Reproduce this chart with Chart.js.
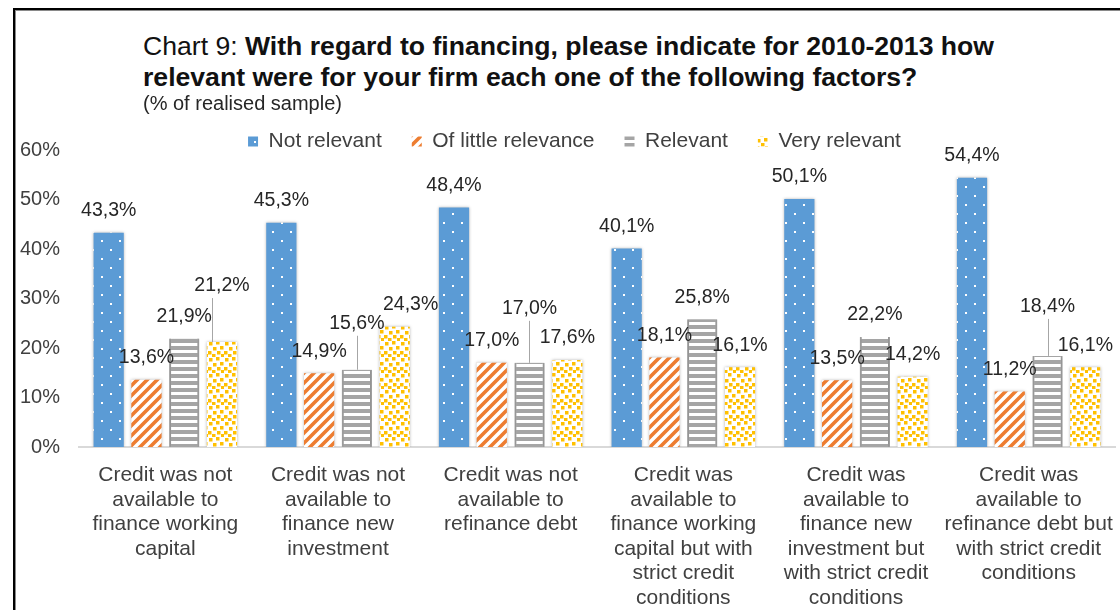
<!DOCTYPE html>
<html>
<head>
<meta charset="utf-8">
<script src="https://cdn.jsdelivr.net/npm/chart.js@4.4.1/dist/chart.umd.min.js"></script>
<style>
  html, body { margin: 0; padding: 0; background: #fff; }
  body { width: 1120px; height: 610px; position: relative; overflow: hidden; font-family: "Liberation Sans", Arial, sans-serif; }
  #frame { position: absolute; left: 13px; top: 8px; width: 1200px; height: 700px; border-left: 2px solid #000; border-top: 2px solid #000; box-shadow: inset 1px 1px 0 #8a8a8a; }
  #title { position: absolute; left: 143px; top: 31px; font-size: 26.6px; line-height: 31px; color: #111; white-space: nowrap; z-index: 2; }
  #title b { font-weight: bold; }
  #subtitle { position: absolute; left: 143px; top: 91px; font-size: 20px; line-height: 24px; color: #262626; white-space: nowrap; z-index: 2; }
  #chart { position: absolute; left: 16px; top: 101px; z-index: 1; }
</style>
</head>
<body>
<div id="frame"></div>
<div id="title">Chart 9: <b>With regard to financing, please indicate for 2010-2013 how</b><br><b>relevant were for your firm each one of the following factors?</b></div>
<div id="subtitle">(% of realised sample)</div>
<canvas id="chart" width="1104" height="509"></canvas>
<script>
// ---------- data ----------
const categories = [
  ["Credit was not", "available to", "finance working", "capital"],
  ["Credit was not", "available to", "finance new", "investment"],
  ["Credit was not", "available to", "refinance debt"],
  ["Credit was", "available to", "finance working", "capital but with", "strict credit", "conditions"],
  ["Credit was", "available to", "finance new", "investment but", "with strict credit", "conditions"],
  ["Credit was", "available to", "refinance debt but", "with strict credit", "conditions"]
];
const seriesNames = ["Not relevant", "Of little relevance", "Relevant", "Very relevant"];
const notRelevant      = [43.3, 45.3, 48.4, 40.1, 50.1, 54.4];
const littleRelevance  = [13.6, 14.9, 17.0, 18.1, 13.5, 11.2];
const relevant         = [21.9, 15.6, 17.0, 25.8, 22.2, 18.4];
const veryRelevant     = [21.2, 24.3, 17.6, 16.1, 14.2, 16.1];
const yTicks = [0, 10, 20, 30, 40, 50, 60];

// ---------- label layout tweaks (dataset-index : [dx, dy, leader line x offset or null]) ----------
const labelNudges = {
  "3-0": [0, -34, -10],
  "2-1": [0, -24, 0],
  "3-1": [16, 0, null],
  "2-2": [0, -32, -1],
  "2-5": [0, -27, 0]
};

// ---------- patterns ----------
function tile(w, h, draw) {
  const c = document.createElement('canvas');
  c.width = w; c.height = h;
  const g = c.getContext('2d');
  draw(g, w, h);
  return document.createElement('canvas').getContext('2d').createPattern(c, 'repeat');
}
const blueDots = tile(18, 18, (g) => {
  g.fillStyle = '#5b9bd5'; g.fillRect(0, 0, 18, 18);
  g.fillStyle = '#ffffff';
  g.fillRect(4, 4, 2, 2); g.fillRect(13, 13, 2, 2);
});
const orangeDiag = tile(10, 10, (g) => {
  g.fillStyle = '#ffffff'; g.fillRect(0, 0, 10, 10);
  g.strokeStyle = '#ed7d31'; g.lineWidth = 3.6; g.lineCap = 'square';
  g.beginPath();
  g.moveTo(-2, 12); g.lineTo(12, -2);
  g.moveTo(-7, 7); g.lineTo(7, -7);
  g.moveTo(3, 17); g.lineTo(17, 3);
  g.stroke();
});
const grayHoriz = tile(4, 7, (g) => {
  g.fillStyle = '#ffffff'; g.fillRect(0, 0, 4, 7);
  g.fillStyle = '#a5a5a5'; g.fillRect(0, 0, 4, 4);
});
const yellowConfetti = tile(16, 16, (g) => {
  g.fillStyle = '#ffffff'; g.fillRect(0, 0, 16, 16);
  g.fillStyle = '#ffc000';
  const sq = [[1,1],[8,0],[12,5],[5,6],[0,10],[9,10],[13,13],[4,13]];
  sq.forEach(p => g.fillRect(p[0], p[1], 3.5, 3.5));
});

// ---------- plugins ----------
const FONT = '"Liberation Sans", Arial, sans-serif';
const barShadow = {
  id: 'barShadow',
  beforeDatasetsDraw(chart) {
    const ctx = chart.ctx;
    ctx.save();
    ctx.shadowColor = 'rgba(0,0,0,0.30)';
    ctx.shadowBlur = 3;
    ctx.shadowOffsetX = 0;
    ctx.shadowOffsetY = 0;
  },
  afterDatasetsDraw(chart) { chart.ctx.restore(); }
};
const valueLabels = {
  id: 'valueLabels',
  afterDatasetsDraw(chart) {
    const ctx = chart.ctx;
    ctx.save();
    ctx.font = '19.5px ' + FONT;
    ctx.textAlign = 'center';
    ctx.textBaseline = 'middle';
    chart.data.datasets.forEach((ds, i) => {
      chart.getDatasetMeta(i).data.forEach((bar, j) => {
        const n = labelNudges[i + '-' + j] || [0, 0, null];
        const x = bar.x + n[0];
        const y = bar.y - 22 + n[1];
        if (n[2] !== null) {
          ctx.strokeStyle = '#a6a6a6';
          ctx.lineWidth = 1;
          ctx.beginPath();
          const lx = Math.round(bar.x + n[2]) + 0.5;
          ctx.moveTo(lx, y + 12);
          ctx.lineTo(lx, bar.y);
          ctx.stroke();
        }
        ctx.fillStyle = '#262626';
        ctx.fillText(ds.data[j].toFixed(1).replace('.', ',') + '%', x, y);
      });
    });
    ctx.restore();
  }
};
const legendTweaks = {
  id: 'legendTweaks',
  beforeInit(chart) {
    const fit = chart.legend.fit;
    chart.legend.fit = function () { fit.call(this); this.height = 49; };
  },
  afterLayout(chart) {
    chart.legend.left += 9;
    chart.legend.right += 9;
  }
};

// ---------- chart ----------
new Chart(document.getElementById('chart'), {
  type: 'bar',
  data: {
    labels: categories,
    datasets: [
      { label: seriesNames[0], data: notRelevant, backgroundColor: blueDots, borderWidth: 0 },
      { label: seriesNames[1], data: littleRelevance, backgroundColor: orangeDiag, borderWidth: 0 },
      { label: seriesNames[2], data: relevant, backgroundColor: grayHoriz, borderColor: '#a5a5a5', borderWidth: { left: 2, right: 2, top: 0, bottom: 0 }, borderSkipped: false },
      { label: seriesNames[3], data: veryRelevant, backgroundColor: yellowConfetti, borderWidth: 0 }
    ]
  },
  options: {
    responsive: false,
    animation: false,
    devicePixelRatio: 1,
    layout: { padding: { left: 0, right: 5, top: 0, bottom: 0 } },
    datasets: { bar: { categoryPercentage: 0.875, barPercentage: 0.8 } },
    plugins: {
      legend: {
        position: 'top',
        align: 'center',
        labels: {
          font: { family: FONT, size: 21 },
          color: '#404040',
          boxWidth: 10,
          boxHeight: 10,
          padding: 30,
          generateLabels(chart) {
            const items = Chart.defaults.plugins.legend.labels.generateLabels(chart);
            items.forEach(it => { it.lineWidth = 0; it.strokeStyle = 'rgba(0,0,0,0)'; });
            return items;
          }
        }
      },
      tooltip: { enabled: false },
      title: { display: false }
    },
    scales: {
      x: {
        grid: { display: false, drawTicks: false },
        border: { display: true, color: '#d9d9d9', width: 2 },
        ticks: { font: { family: FONT, size: 21, lineHeight: 1.167 }, color: '#404040', padding: 16, maxRotation: 0, autoSkip: false },
        afterFit(s) { s.height = 163; s.paddingLeft = 0; s.paddingRight = 0; }
      },
      y: {
        min: 0, max: 60,
        afterBuildTicks(s) { s.ticks = yTicks.map(v => ({ value: v })); },
        grid: { display: false, drawTicks: false },
        border: { display: false },
        ticks: { font: { family: FONT, size: 20 }, color: '#404040', padding: 19, callback: v => v + '%' },
        afterFit(s) { s.width = 63; }
      }
    }
  },
  plugins: [legendTweaks, barShadow, valueLabels]
});
</script>
</body>
</html>
